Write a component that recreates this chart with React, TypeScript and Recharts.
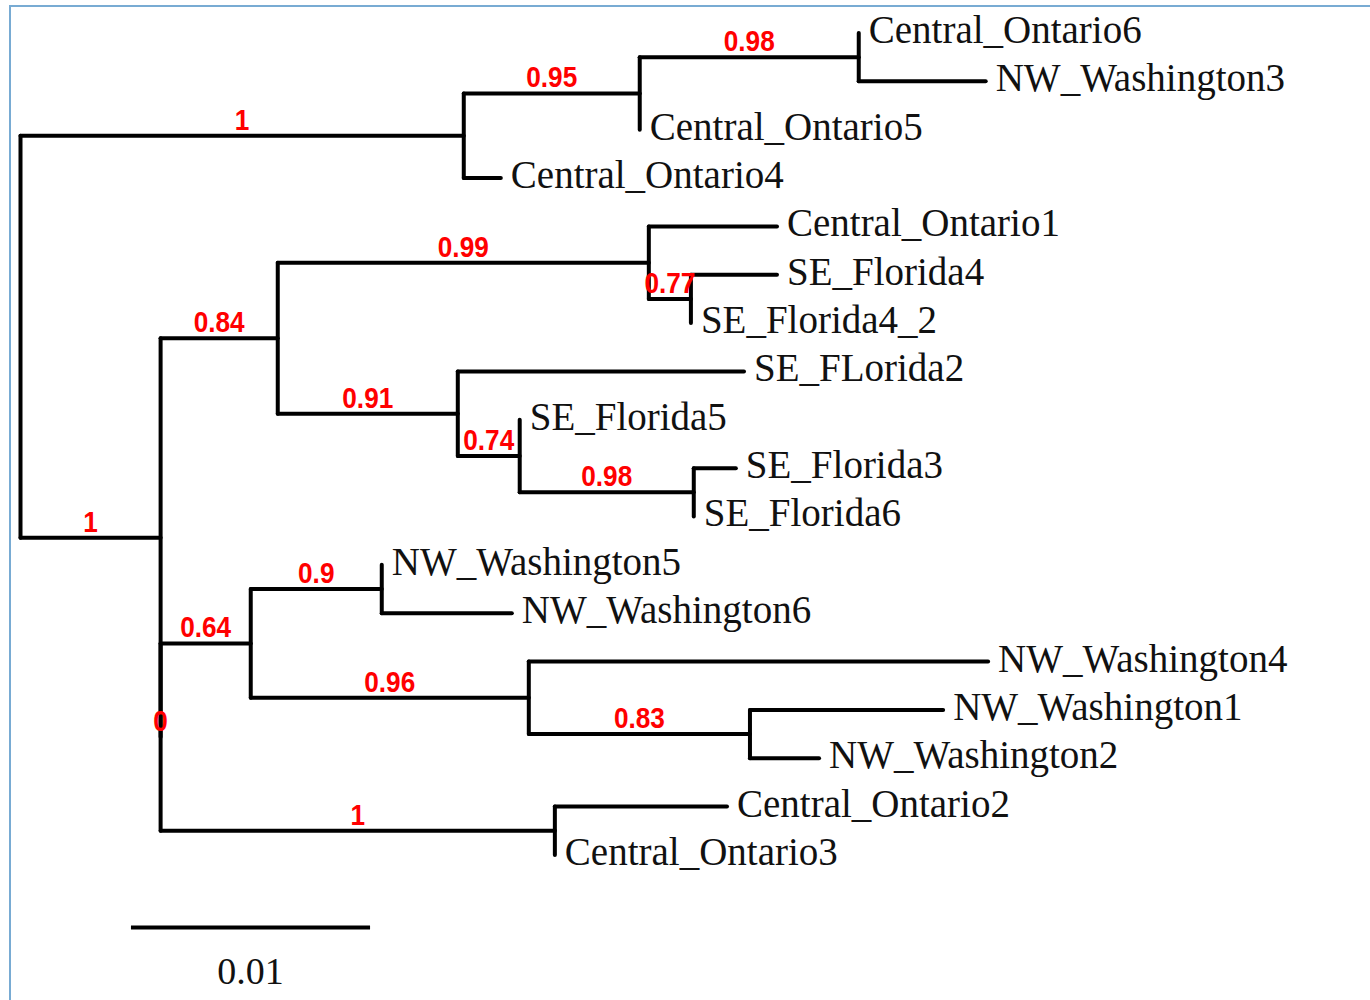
import React from 'react';
import { ScatterChart, XAxis, YAxis, ReferenceLine, Scatter } from 'recharts';

// ---- Tree data ----
// Internal nodes: id, parent, branch length (substitutions/site), support value
const nodeIds = ['root', 'A', 'B', 'C', 'D', 'E', 'I', 'J', 'K', 'L', 'M', 'G', 'F', 'N', 'O', 'P', 'H'];
const nodeParents: (string | null)[] = [null, 'root', 'A', 'B', 'root', 'D', 'E', 'I', 'E', 'K', 'L', 'D', 'G', 'F', 'F', 'O', 'G'];
const nodeBranchLengths = [0, 0.01854, 0.00736, 0.00916, 0.00586, 0.0049, 0.01552, 0.00176, 0.00753, 0.00259, 0.00728, 0, 0.00377, 0.00548, 0.01163, 0.00925, 0.01649];
const nodeSupports = ['', '1', '0.95', '0.98', '1', '0.84', '0.99', '0.77', '0.91', '0.74', '0.98', '0', '0.64', '0.9', '0.96', '0.83', '1'];

// Leaves in display order (top to bottom)
const leafNames = [
  'Central_Ontario6', 'NW_Washington3', 'Central_Ontario5', 'Central_Ontario4',
  'Central_Ontario1', 'SE_Florida4', 'SE_Florida4_2', 'SE_FLorida2', 'SE_Florida5',
  'SE_Florida3', 'SE_Florida6', 'NW_Washington5', 'NW_Washington6', 'NW_Washington4',
  'NW_Washington1', 'NW_Washington2', 'Central_Ontario2', 'Central_Ontario3',
];
const leafParents = ['C', 'C', 'B', 'A', 'I', 'J', 'J', 'K', 'L', 'M', 'M', 'N', 'N', 'O', 'P', 'P', 'H', 'H'];
const leafBranchLengths = [0, 0.00531, 0, 0.00155, 0.00536, 0.0036, 0, 0.01197, 0, 0.00176, 0, 0, 0.00544, 0.01921, 0.00808, 0.00289, 0.0072, 0];

// Scale bar
const scaleBarLength = 0.01;
const scaleBarStart = 0.00462;
const scaleBarRow = 18.5;
const scaleBarLabel = '0.01';

// ---- Layout from the tree ----
type Seg = { x1: number; y1: number; x2: number; y2: number };

function buildTree() {
  const nodeX: Record<string, number> = {};
  nodeIds.forEach((id, i) => {
    const p = nodeParents[i];
    nodeX[id] = p === null ? 0 : nodeX[p] + nodeBranchLengths[i];
  });
  const leafX = leafNames.map((_, i) => nodeX[leafParents[i]] + leafBranchLengths[i]);

  const childYs: Record<string, number[]> = {};
  const nodeY: Record<string, number> = {};
  const yOf = (id: string): number => {
    if (nodeY[id] !== undefined) return nodeY[id];
    const ys: number[] = [];
    leafParents.forEach((p, i) => { if (p === id) ys.push(i); });
    nodeIds.forEach((cid, i) => { if (nodeParents[i] === id) ys.push(yOf(cid)); });
    childYs[id] = ys;
    nodeY[id] = (Math.min(...ys) + Math.max(...ys)) / 2;
    return nodeY[id];
  };
  nodeIds.forEach((id) => yOf(id));

  const segs: Seg[] = [];
  nodeIds.forEach((id, i) => {
    const ys = childYs[id];
    segs.push({ x1: nodeX[id], y1: Math.min(...ys), x2: nodeX[id], y2: Math.max(...ys) });
    const p = nodeParents[i];
    if (p !== null && nodeBranchLengths[i] > 0) {
      segs.push({ x1: nodeX[p], y1: nodeY[id], x2: nodeX[id], y2: nodeY[id] });
    }
  });
  leafNames.forEach((_, i) => {
    if (leafBranchLengths[i] > 0) {
      const px = nodeX[leafParents[i]];
      segs.push({ x1: px, y1: i, x2: leafX[i], y2: i });
    }
  });

  const leafLabels = leafNames.map((name, i) => ({ x: leafX[i], y: i, name }));
  const supportLabels = nodeIds
    .map((id, i) => {
      const p = nodeParents[i];
      if (p === null) return null;
      return { x: (nodeX[p] + nodeX[id]) / 2, y: nodeY[id], name: nodeSupports[i] };
    })
    .filter(Boolean) as { x: number; y: number; name: string }[];
  return { segs, leafLabels, supportLabels };
}

const { segs, leafLabels, supportLabels } = buildTree();
const scaleLabelData = [{ x: scaleBarStart + scaleBarLength / 2, y: scaleBarRow, name: scaleBarLabel }];

const SERIF = "'Liberation Serif', 'Times New Roman', serif";
const SANS = "'Liberation Sans', Arial, sans-serif";

const LeafText = (props: any) => (
  <text x={props.cx + 10} y={props.cy + 10} fontFamily={SERIF} fontSize={39} fill="#111">
    {props.payload.name}
  </text>
);

const SupportText = (props: any) => (
  <text
    x={props.cx}
    y={props.cy - 6}
    textAnchor="middle"
    fontFamily={SANS}
    fontWeight="bold"
    fontSize={27}
    fill="#ff0000"
    transform={`translate(${props.cx} ${props.cy - 6}) scale(0.97 1.06) translate(${-props.cx} ${-(props.cy - 6)})`}
  >
    {props.payload.name}
  </text>
);

const ScaleText = (props: any) => (
  <text x={props.cx} y={props.cy + 57} textAnchor="middle" fontFamily={SERIF} fontSize={38} fill="#111">
    {props.payload.name}
  </text>
);

export default function App() {
  return (
    <div style={{ position: 'absolute', left: 0, top: 0, width: 1370, height: 1000, background: '#fff', overflow: 'hidden' }}>
      <div
        style={{
          position: 'absolute', left: 9, top: 5, width: 1400, height: 1000,
          borderLeft: '2px solid #78abd3', borderTop: '2px solid #78abd3', pointerEvents: 'none',
        }}
      />
      <ScatterChart width={1370} height={1000} margin={{ top: 8.8, right: 10.6, bottom: 0, left: 20.5 }}>
        <XAxis type="number" dataKey="x" domain={[0, 0.056]} allowDataOverflow hide />
        <YAxis type="number" dataKey="y" domain={[-0.5, 20]} allowDataOverflow reversed hide />
        {segs.map((s, i) => (
          <ReferenceLine
            key={i}
            segment={[{ x: s.x1, y: s.y1 }, { x: s.x2, y: s.y2 }]}
            stroke="#000"
            strokeWidth={4}
            strokeLinecap="round"
            ifOverflow="visible"
          />
        ))}
        <ReferenceLine
          segment={[{ x: scaleBarStart, y: scaleBarRow }, { x: scaleBarStart + scaleBarLength, y: scaleBarRow }]}
          stroke="#000"
          strokeWidth={4}
          ifOverflow="visible"
        />
        <Scatter data={leafLabels} dataKey="y" shape={LeafText} isAnimationActive={false} />
        <Scatter data={supportLabels} dataKey="y" shape={SupportText} isAnimationActive={false} />
        <Scatter data={scaleLabelData} dataKey="y" shape={ScaleText} isAnimationActive={false} />
      </ScatterChart>
    </div>
  );
}
